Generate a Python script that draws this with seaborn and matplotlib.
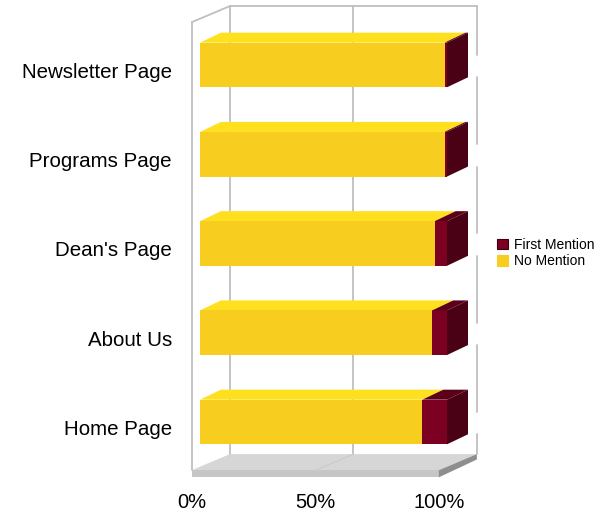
import matplotlib
matplotlib.use("Agg")
import matplotlib.pyplot as plt
import seaborn as sns
import pandas as pd
from matplotlib.patches import Polygon, Patch

# Data (percent of mentions per page)
pages = ["Newsletter Page", "Programs Page", "Dean's Page", "About Us", "Home Page"]
no_mention = [99, 99, 95, 94, 90]
first_mention = [1, 1, 5, 6, 10]
tick_values = [0, 50, 100]
tick_labels = ["0%", "50%", "100%"]

df = pd.DataFrame({"page": pages, "No Mention": no_mention, "First Mention": first_mention})
df["total"] = df["No Mention"] + df["First Mention"]

# colours
YELLOW = "#F7CD20"
YELLOW_TOP = "#FFE01E"
RED = "#7B0022"
RED_TOP = "#5C0019"
RED_SIDE = "#4A0015"
GRID = "#BFBFBF"

# fake 3D geometry (data units)
BAR_DX, BAR_DY = 8.5, -0.112
WALL_X0 = -3.3
WALL_DX, WALL_DY = 15.4, -0.18
FLOOR_Y, FLOOR_T = 4.54, 0.08
WALL_TOP = -0.48

sns.set_style("white")
plt.rcParams["font.family"] = ["Liberation Sans", "DejaVu Sans"]
plt.rcParams["text.color"] = "black"
plt.rcParams["xtick.color"] = "black"
plt.rcParams["ytick.color"] = "black"

fig = plt.figure(figsize=(6.01, 5.15), dpi=100)
ax = fig.add_axes([185 / 601, 35 / 515, 300 / 601, 480 / 515])

# stacked bars: full length in red, no-mention part in yellow on top
sns.barplot(data=df, x="total", y="page", color=RED, saturation=1, width=0.5,
            orient="h", ax=ax, zorder=3)
sns.barplot(data=df, x="No Mention", y="page", color=YELLOW, saturation=1, width=0.5,
            orient="h", ax=ax, zorder=4)

bars = ax.patches
n = len(pages)
red_bars, yellow_bars = bars[:n], bars[n:2 * n]

def add_poly(pts, color, z):
    ax.add_patch(Polygon(pts, closed=True, facecolor=color, edgecolor="none", zorder=z))

for rb, yb in zip(red_bars, yellow_bars):
    rb.set_edgecolor("none")
    yb.set_edgecolor("none")
    y0 = rb.get_y()
    y1 = y0 + rb.get_height()
    xr = rb.get_width()
    xy = yb.get_width()
    # top faces
    add_poly([(0, y0), (xy, y0), (xy + BAR_DX, y0 + BAR_DY), (BAR_DX, y0 + BAR_DY)], YELLOW_TOP, 3)
    add_poly([(xy, y0), (xr, y0), (xr + BAR_DX, y0 + BAR_DY), (xy + BAR_DX, y0 + BAR_DY)], RED_TOP, 3)
    # right side face
    add_poly([(xr, y0), (xr + BAR_DX, y0 + BAR_DY), (xr + BAR_DX, y1 + BAR_DY), (xr, y1)], RED_SIDE, 3)

# floor slab
fl = WALL_X0
fr = WALL_X0 + 100
add_poly([(fl, FLOOR_Y), (fr, FLOOR_Y), (fr + WALL_DX, FLOOR_Y + WALL_DY),
          (fl + WALL_DX, FLOOR_Y + WALL_DY)], "#D6D6D6", 1)
add_poly([(fl, FLOOR_Y), (fr, FLOOR_Y), (fr, FLOOR_Y + FLOOR_T), (fl, FLOOR_Y + FLOOR_T)], "#C6C6C6", 1)
add_poly([(fr, FLOOR_Y), (fr + WALL_DX, FLOOR_Y + WALL_DY), (fr + WALL_DX, FLOOR_Y + WALL_DY + 0.06),
          (fr, FLOOR_Y + FLOOR_T)], "#8E8E8E", 1)
ax.plot([fl + 50, fl + 50 + WALL_DX], [FLOOR_Y, FLOOR_Y + WALL_DY], color="#CACACA", lw=0.8, zorder=1.5)

# walls and back gridlines
back_top = WALL_TOP + WALL_DY
ax.plot([fl, fl], [WALL_TOP, FLOOR_Y], color=GRID, lw=1.3, zorder=1)
ax.plot([fl, fl + WALL_DX], [WALL_TOP, back_top], color=GRID, lw=1.3, zorder=1)
ax.plot([fl + WALL_DX, fr + WALL_DX], [back_top, back_top], color=GRID, lw=1.3, zorder=1)
for v in tick_values:
    gx = fl + v + WALL_DX
    if v < 100:
        ax.plot([gx, gx], [back_top, FLOOR_Y + WALL_DY], color=GRID, lw=1.3, zorder=1)
    else:
        # the right-hand line shows up broken behind the bars
        ys = [back_top]
        for i in range(n):
            ys += [i + BAR_DY, i + 0.25 + BAR_DY]
        ys.append(FLOOR_Y + WALL_DY)
        for a, b in zip(ys[::2], ys[1::2]):
            ax.plot([gx, gx], [a, b], color=GRID, lw=1.3, zorder=1)

ax.set_xlim(-15 / 2.47, 285 / 2.47)
ax.set_ylim(4.65, -0.728)
ax.set_xticks([WALL_X0 + v for v in tick_values])
ax.set_xticklabels(tick_labels, fontsize=14.5)
ax.set_yticks([i + 0.06 for i in range(n)])
ax.set_yticklabels(pages, fontsize=14.8)
ax.tick_params(axis="x", length=0, pad=9.5)
ax.tick_params(axis="y", length=0, pad=9.5)
ax.set_xlabel("")
ax.set_ylabel("")
for s in ax.spines.values():
    s.set_visible(False)

handles = [Patch(facecolor=RED, edgecolor="#3A0010", lw=0.8),
           Patch(facecolor=YELLOW, edgecolor=YELLOW, lw=0.8)]
fig.legend(handles, ["First Mention", "No Mention"], loc="upper left",
           bbox_to_anchor=(497 / 601, 1 - 238 / 515), frameon=False, fontsize=10,
           handlelength=0.8, handleheight=0.8, handletextpad=0.4, labelspacing=0.15,
           borderpad=0, borderaxespad=0)

fig.savefig("out.png", dpi=100)
